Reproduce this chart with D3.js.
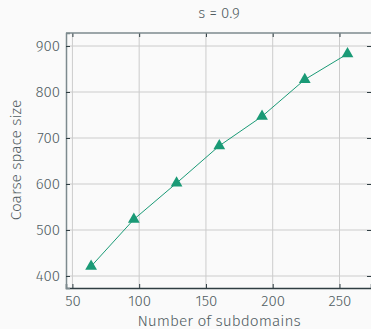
<!DOCTYPE html>
<html>
<head>
<meta charset="utf-8">
<script src="https://cdn.jsdelivr.net/npm/d3@7"></script>
<style>
  html, body { margin: 0; padding: 0; background: #fafafa; }
  svg { display: block; }
  text { font-family: "Fira Sans", "Open Sans", "Noto Sans", sans-serif; font-weight: 300; fill: #515d62; }
</style>
</head>
<body>
<svg id="chart" width="371" height="329"></svg>
<script>
// Coarse space size vs. number of subdomains, s = 0.9
const subdomains = [64, 96, 128, 160, 192, 224, 256];
const coarseSize = [421, 523, 602, 683, 747, 827, 883];
const xTicks = [50, 100, 150, 200, 250];
const yTicks = [400, 500, 600, 700, 800, 900];

const svg = d3.select("#chart");
const margin = { left: 66, top: 33, right: 0, bottom: 41 };
const W = 371, H = 329;

const x = d3.scaleLinear().domain([45.2, 273.6]).range([margin.left, W - margin.right]);
const y = d3.scaleLinear().domain([373.9, 928.3]).range([H - margin.bottom, margin.top]);

const ink = "#2f3d42";
const grid = "#cccccc";
const teal = "#1a9a76";
const fontStack = '"Fira Sans", "Open Sans", "Noto Sans", sans-serif';

// plot background
svg.append("rect")
  .attr("x", margin.left).attr("y", margin.top)
  .attr("width", W - margin.left - margin.right)
  .attr("height", H - margin.top - margin.bottom)
  .attr("fill", "#fafafa");

// grid
const g = svg.append("g");
g.selectAll(".vg").data(xTicks).join("line")
  .attr("x1", d => x(d)).attr("x2", d => x(d))
  .attr("y1", margin.top).attr("y2", H - margin.bottom)
  .attr("stroke", grid).attr("stroke-width", 1);
g.selectAll(".hg").data(yTicks).join("line")
  .attr("y1", d => y(d)).attr("y2", d => y(d))
  .attr("x1", margin.left).attr("x2", W - margin.right)
  .attr("stroke", grid).attr("stroke-width", 1);

// axes with inward ticks
const xAxis = svg.append("g")
  .attr("transform", `translate(0,${H - margin.bottom})`)
  .call(d3.axisBottom(x).tickValues(xTicks).tickSize(-4).tickPadding(7).tickFormat(d3.format("d")));
const yAxis = svg.append("g")
  .attr("transform", `translate(${margin.left},0)`)
  .call(d3.axisLeft(y).tickValues(yTicks).tickSize(-4).tickPadding(6).tickFormat(d3.format("d")));
// top and right ticks
svg.append("g")
  .attr("transform", `translate(0,${margin.top})`)
  .call(d3.axisTop(x).tickValues(xTicks).tickSize(-4).tickFormat(""))
  .call(a => a.select(".domain").remove());
svg.append("g")
  .attr("transform", `translate(${W - margin.right},0)`)
  .call(d3.axisRight(y).tickValues(yTicks).tickSize(-4).tickFormat(""))
  .call(a => a.select(".domain").remove());

svg.selectAll(".tick line").attr("stroke", ink).attr("stroke-width", 1);
svg.selectAll(".tick text").attr("font-size", 15).attr("fill", "#515d62")
  .style("font-family", fontStack).style("font-weight", 300);
xAxis.select(".domain").attr("stroke", ink).attr("stroke-width", 1.5);
yAxis.select(".domain").attr("stroke", "#7d8a8e").attr("stroke-width", 1.5);

// top spine
svg.append("line")
  .attr("x1", margin.left).attr("x2", W)
  .attr("y1", margin.top).attr("y2", margin.top)
  .attr("stroke", "#7d8a8e").attr("stroke-width", 1.5);

// data line and markers
const line = d3.line().x((d, i) => x(subdomains[i])).y(d => y(d));
svg.append("path").datum(coarseSize)
  .attr("d", line).attr("fill", "none")
  .attr("stroke", teal).attr("stroke-width", 1);

const tri = d3.symbol().type(d3.symbolTriangle).size(60);
svg.selectAll(".pt").data(coarseSize).join("path")
  .attr("transform", (d, i) => `translate(${x(subdomains[i])},${y(d)})`)
  .attr("d", tri).attr("fill", teal);

// labels
svg.append("text")
  .attr("x", 219).attr("y", 18).attr("text-anchor", "middle").attr("font-size", 15)
  .text("s = 0.9");
svg.append("text")
  .attr("x", 219).attr("y", 326).attr("text-anchor", "middle").attr("font-size", 15.5)
  .text("Number of subdomains");
svg.append("text")
  .attr("transform", "translate(21,160) rotate(-90)")
  .attr("text-anchor", "middle").attr("font-size", 15.5)
  .text("Coarse space size");
</script>
</body>
</html>
